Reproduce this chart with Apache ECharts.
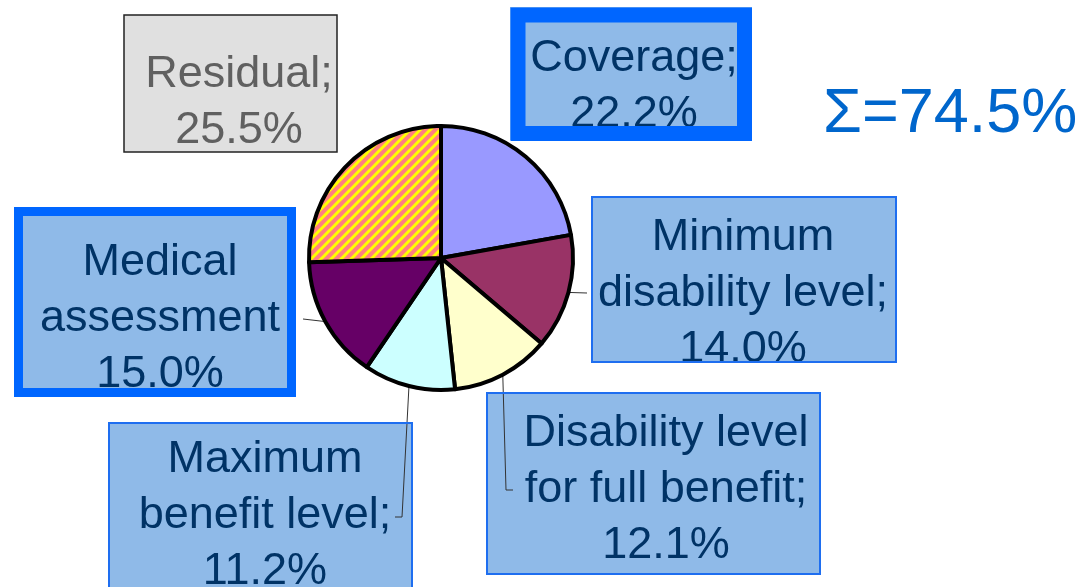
<!DOCTYPE html>
<html>
<head>
<meta charset="utf-8">
<script src="https://cdn.jsdelivr.net/npm/echarts@6/dist/echarts.min.js"></script>
<style>
html,body{margin:0;padding:0;background:#fff;}
#chart{width:1083px;height:587px;}
</style>
</head>
<body>
<div id="chart"></div>
<script>
// ---- data ----
const categories = ['Coverage', 'Minimum disability level', 'Disability level for full benefit', 'Maximum benefit level', 'Medical assessment', 'Residual'];
const shares = [22.2, 14.0, 12.1, 11.2, 15.0, 25.5];
const labelTexts = ['Coverage;', 'Minimum\ndisability level;', 'Disability level\nfor full benefit;', 'Maximum\nbenefit level;', 'Medical\nassessment', 'Residual;'];
const sliceColors = ['#9999FF', '#993366', '#FFFFCC', '#CCFFFF', '#660066', null];

// ---- layout (label anchors, boxes) ----
const labelPos = [[634, 87], [743, 294], [666, 490], [265, 516], [160, 319], [239, 103]];
const leaderPoints = [null, [[587, 293]], [[506, 490], [513, 490]], [[402, 517], [395, 517]], [[303, 319]], null];

// hatch pattern for residual
const pat = document.createElement('canvas');
pat.width = 10; pat.height = 10;
const pc = pat.getContext('2d');
pc.fillStyle = '#FF8080';
pc.fillRect(0, 0, 10, 10);
pc.strokeStyle = '#FFFF00';
pc.lineWidth = 3;
pc.beginPath();
pc.moveTo(-2, 12); pc.lineTo(12, -2);
pc.moveTo(-7, 7); pc.lineTo(7, -7);
pc.moveTo(3, 17); pc.lineTo(17, 3);
pc.stroke();

const explained = shares.slice(0, 5).reduce((a, b) => a + b, 0);

const data = categories.map((c, i) => ({
  name: c,
  value: shares[i],
  itemStyle: { color: sliceColors[i] ? sliceColors[i] : { image: pat, repeat: 'repeat' } },
  label: { color: i === 5 ? '#606060' : '#003366' },
  labelLine: { show: leaderPoints[i] !== null }
}));

const chart = echarts.init(document.getElementById('chart'));

const boxes = [
  // fills (below)
  { type: 'rect', z: -10, shape: { x: 510, y: 7, width: 242, height: 133 }, style: { fill: '#8FBAE8' } },
  { type: 'rect', z: -10, shape: { x: 14, y: 207, width: 282, height: 190 }, style: { fill: '#8FBAE8' } },
  { type: 'rect', z: -10, shape: { x: 592, y: 197, width: 304, height: 165 }, style: { fill: '#8FBAE8' } },
  { type: 'rect', z: -10, shape: { x: 487, y: 393, width: 333, height: 181 }, style: { fill: '#8FBAE8' } },
  { type: 'rect', z: -10, shape: { x: 109, y: 423, width: 303, height: 180 }, style: { fill: '#8FBAE8' } },
  { type: 'rect', z: -10, shape: { x: 124, y: 15, width: 213, height: 137 }, style: { fill: '#E0E0E0' } },
  // cover for overflow below minimum box
  { type: 'rect', z: 100, shape: { x: 586, y: 363, width: 316, height: 28 }, style: { fill: '#ffffff' } },
  // borders (above)
  { type: 'rect', z: 101, shape: { x: 518, y: 15, width: 226.5, height: 118.5 }, style: { fill: null, stroke: '#0066FF', lineWidth: 15 } },
  { type: 'rect', z: 101, shape: { x: 18.5, y: 211.5, width: 273, height: 181 }, style: { fill: null, stroke: '#0066FF', lineWidth: 9 } },
  { type: 'rect', z: 101, shape: { x: 592, y: 197, width: 304, height: 165 }, style: { fill: null, stroke: '#1E6EF0', lineWidth: 2 } },
  { type: 'rect', z: 101, shape: { x: 487, y: 393, width: 333, height: 181 }, style: { fill: null, stroke: '#1E6EF0', lineWidth: 2 } },
  { type: 'rect', z: 101, shape: { x: 109, y: 423, width: 303, height: 180 }, style: { fill: null, stroke: '#1E6EF0', lineWidth: 2 } },
  { type: 'rect', z: 101, shape: { x: 124, y: 15, width: 213, height: 137 }, style: { fill: null, stroke: '#222', lineWidth: 1.5 } },
  { type: 'text', z: 101, left: 823, top: 83, style: { text: 'Σ=' + explained.toFixed(1) + '%', fill: '#0066CC', font: '63px "Liberation Sans", Arial, sans-serif' } }
];

chart.setOption({
  animation: false,
  backgroundColor: '#ffffff',
  graphic: { elements: boxes },
  series: [{
    type: 'pie',
    center: [441, 258],
    radius: 132,
    startAngle: 90,
    clockwise: true,
    avoidLabelOverlap: false,
    itemStyle: { borderColor: '#000', borderWidth: 4 },
    emphasis: { disabled: true },
    label: {
      show: true,
      position: 'outside',
      fontFamily: '"Liberation Sans", Arial, sans-serif',
      fontSize: 45,
      lineHeight: 56,
      align: 'center',
      formatter: p => labelTexts[p.dataIndex] + '\n' + p.value.toFixed(1) + '%'
    },
    labelLine: { show: true, length: 10, length2: 10, lineStyle: { color: '#333', width: 1 } },
    labelLayout: function (params) {
      const i = params.dataIndex;
      const out = { x: labelPos[i][0], y: labelPos[i][1], align: 'center', verticalAlign: 'middle' };
      if (leaderPoints[i] && params.labelLinePoints) {
        out.labelLinePoints = [params.labelLinePoints[0]].concat(leaderPoints[i]);
      }
      return out;
    },
    data: data
  }]
});
</script>
</body>
</html>
